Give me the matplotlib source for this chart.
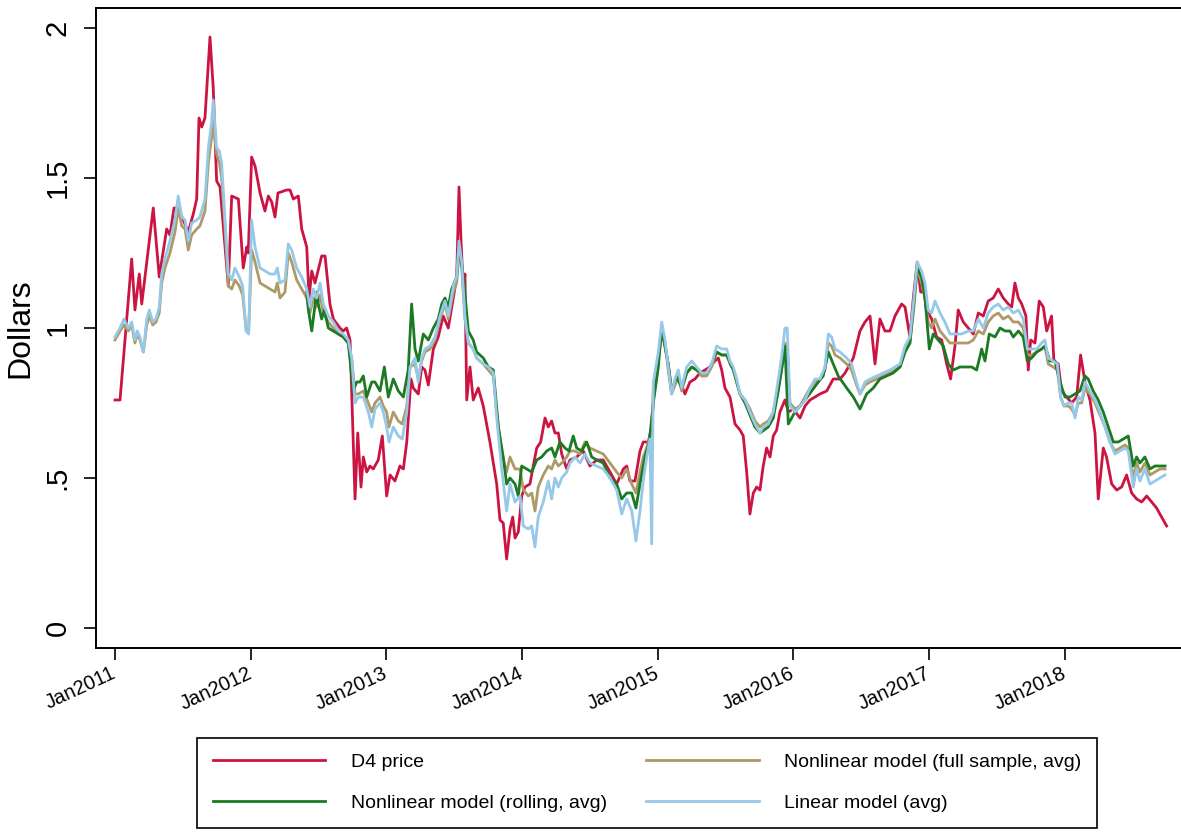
import numpy as np
import matplotlib
matplotlib.use("Agg")
import matplotlib.pyplot as plt

plt.rcParams["font.family"] = ["Liberation Sans", "DejaVu Sans"]

# time axis: years since Jan 2011
d4_t = [0.000, 0.037, 0.123, 0.147, 0.179, 0.197, 0.282, 0.326, 0.381, 0.405,
        0.435, 0.464, 0.503, 0.540, 0.577, 0.602, 0.619, 0.639, 0.663, 0.700,
        0.724, 0.749, 0.774, 0.835, 0.860, 0.909, 0.945, 0.971, 0.982, 1.007,
        1.032, 1.069, 1.105, 1.130, 1.155, 1.179, 1.201, 1.265, 1.290, 1.314,
        1.351, 1.376, 1.413, 1.430, 1.450, 1.474, 1.523, 1.548, 1.584, 1.609,
        1.658, 1.682, 1.707, 1.732, 1.769, 1.789, 1.813, 1.830, 1.855, 1.879,
        1.903, 1.940, 1.970, 2.002, 2.027, 2.063, 2.100, 2.125, 2.150, 2.181,
        2.198, 2.235, 2.260, 2.284, 2.309, 2.346, 2.382, 2.419, 2.456, 2.493,
        2.518, 2.535, 2.550, 2.567, 2.579, 2.592, 2.616, 2.640, 2.677, 2.714,
        2.763, 2.813, 2.837, 2.861, 2.886, 2.911, 2.931, 2.948, 2.972, 2.997,
        3.021, 3.058, 3.082, 3.108, 3.137, 3.169, 3.193, 3.218, 3.242, 3.267,
        3.292, 3.329, 3.353, 3.402, 3.451, 3.500, 3.550, 3.598, 3.648, 3.697,
        3.746, 3.771, 3.795, 3.832, 3.869, 3.893, 3.930, 3.955, 3.979, 4.001,
        4.029, 4.053, 4.077, 4.102, 4.139, 4.176, 4.200, 4.237, 4.274, 4.311,
        4.348, 4.385, 4.421, 4.446, 4.471, 4.495, 4.532, 4.569, 4.606, 4.630,
        4.655, 4.679, 4.704, 4.729, 4.753, 4.777, 4.802, 4.827, 4.851, 4.876,
        4.900, 4.937, 4.962, 4.998, 5.048, 5.085, 5.122, 5.158, 5.195, 5.245,
        5.293, 5.343, 5.380, 5.441, 5.490, 5.527, 5.564, 5.601, 5.637, 5.674,
        5.711, 5.748, 5.797, 5.822, 5.858, 5.883, 5.912, 5.937, 5.962, 5.982,
        6.018, 6.055, 6.092, 6.129, 6.158, 6.190, 6.214, 6.251, 6.288, 6.325,
        6.362, 6.399, 6.435, 6.472, 6.509, 6.546, 6.583, 6.608, 6.632, 6.657,
        6.682, 6.713, 6.730, 6.748, 6.780, 6.811, 6.841, 6.866, 6.902, 6.919,
        6.951, 6.976, 7.013, 7.050, 7.087, 7.116, 7.148, 7.185, 7.222, 7.246,
        7.283, 7.307, 7.345, 7.382, 7.418, 7.455, 7.492, 7.529, 7.566, 7.603,
        7.639, 7.676, 7.700, 7.750]
d4_price = [0.76, 0.76, 1.23, 1.06, 1.18, 1.08, 1.40, 1.17, 1.33, 1.31,
            1.40, 1.40, 1.36, 1.32, 1.38, 1.43, 1.70, 1.67, 1.70, 1.97,
            1.80, 1.49, 1.47, 1.14, 1.44, 1.43, 1.20, 1.27, 1.25, 1.57,
            1.54, 1.45, 1.39, 1.44, 1.42, 1.37, 1.45, 1.46, 1.46, 1.43,
            1.44, 1.33, 1.27, 1.10, 1.19, 1.15, 1.24, 1.24, 1.08, 1.03,
            1.00, 0.99, 1.00, 0.96, 0.43, 0.65, 0.47, 0.57, 0.52, 0.54,
            0.53, 0.56, 0.64, 0.44, 0.51, 0.49, 0.54, 0.53, 0.62, 0.83,
            0.80, 0.78, 0.87, 0.86, 0.81, 0.93, 0.97, 1.04, 1.00, 1.10,
            1.17, 1.47, 1.29, 1.13, 1.18, 0.76, 0.87, 0.76, 0.80, 0.74,
            0.62, 0.48, 0.36, 0.35, 0.23, 0.33, 0.37, 0.30, 0.32, 0.44,
            0.47, 0.48, 0.54, 0.60, 0.62, 0.70, 0.67, 0.69, 0.65, 0.65,
            0.58, 0.53, 0.56, 0.57, 0.59, 0.54, 0.56, 0.56, 0.52, 0.48,
            0.53, 0.54, 0.49, 0.49, 0.59, 0.62, 0.62, 0.67, 0.83, 0.89,
            0.99, 0.94, 0.88, 0.79, 0.83, 0.81, 0.78, 0.82, 0.83, 0.85,
            0.86, 0.87, 0.89, 0.90, 0.86, 0.80, 0.77, 0.68, 0.66, 0.64,
            0.52, 0.38, 0.45, 0.47, 0.46, 0.54, 0.60, 0.57, 0.64, 0.66,
            0.72, 0.76, 0.72, 0.73, 0.70, 0.74, 0.76, 0.77, 0.78, 0.79,
            0.83, 0.83, 0.85, 0.90, 0.99, 1.02, 1.04, 0.88, 1.03, 0.99,
            0.99, 1.04, 1.08, 1.07, 0.97, 1.10, 1.22, 1.12, 1.12, 1.06,
            1.03, 0.97, 0.96, 0.88, 0.83, 0.94, 1.06, 1.02, 1.00, 0.98,
            1.05, 1.04, 1.09, 1.10, 1.13, 1.10, 1.08, 1.07, 1.15, 1.10,
            1.08, 1.04, 0.86, 0.96, 0.95, 1.09, 1.07, 0.99, 1.04, 0.89,
            0.88, 0.79, 0.77, 0.75, 0.77, 0.91, 0.82, 0.76, 0.65, 0.43,
            0.60, 0.57, 0.48, 0.46, 0.47, 0.51, 0.45, 0.43, 0.42, 0.44,
            0.42, 0.40, 0.38, 0.34]

# linear and full-sample nonlinear model share one date list
model_t = [0.000, 0.037, 0.066, 0.098, 0.123, 0.147, 0.164, 0.184, 0.209, 0.234,
           0.253, 0.278, 0.302, 0.326, 0.344, 0.368, 0.405, 0.442, 0.466, 0.492,
           0.516, 0.540, 0.565, 0.602, 0.626, 0.663, 0.688, 0.713, 0.724, 0.749,
           0.769, 0.786, 0.811, 0.835, 0.860, 0.884, 0.916, 0.941, 0.965, 0.985,
           1.007, 1.032, 1.069, 1.105, 1.142, 1.179, 1.196, 1.216, 1.253, 1.277,
           1.302, 1.339, 1.376, 1.413, 1.437, 1.461, 1.486, 1.511, 1.535, 1.572,
           1.609, 1.646, 1.682, 1.719, 1.744, 1.769, 1.793, 1.830, 1.867, 1.892,
           1.916, 1.953, 1.977, 2.002, 2.019, 2.051, 2.088, 2.117, 2.150, 2.174,
           2.211, 2.235, 2.260, 2.284, 2.321, 2.358, 2.395, 2.432, 2.456, 2.493,
           2.518, 2.535, 2.555, 2.579, 2.604, 2.640, 2.665, 2.714, 2.751, 2.788,
           2.813, 2.850, 2.886, 2.911, 2.948, 2.985, 3.009, 3.046, 3.071, 3.095,
           3.119, 3.156, 3.193, 3.218, 3.242, 3.267, 3.292, 3.329, 3.353, 3.390,
           3.427, 3.463, 3.500, 3.550, 3.598, 3.648, 3.697, 3.734, 3.771, 3.808,
           3.839, 3.869, 3.893, 3.918, 3.942, 3.955, 3.967, 4.004, 4.029, 4.053,
           4.077, 4.102, 4.127, 4.151, 4.176, 4.213, 4.250, 4.287, 4.323, 4.360,
           4.397, 4.434, 4.471, 4.508, 4.532, 4.557, 4.581, 4.606, 4.643, 4.679,
           4.716, 4.753, 4.777, 4.814, 4.851, 4.888, 4.912, 4.937, 4.954, 4.974,
           5.011, 5.048, 5.085, 5.122, 5.158, 5.195, 5.232, 5.257, 5.281, 5.306,
           5.343, 5.392, 5.428, 5.465, 5.490, 5.527, 5.564, 5.613, 5.662, 5.711,
           5.748, 5.785, 5.822, 5.858, 5.888, 5.912, 5.944, 5.969, 5.993, 6.018,
           6.043, 6.080, 6.116, 6.153, 6.190, 6.239, 6.288, 6.325, 6.362, 6.399,
           6.435, 6.472, 6.509, 6.546, 6.583, 6.620, 6.657, 6.693, 6.723, 6.755,
           6.792, 6.829, 6.853, 6.877, 6.914, 6.944, 6.969, 6.993, 7.025, 7.050,
           7.075, 7.099, 7.124, 7.148, 7.185, 7.222, 7.259, 7.296, 7.332, 7.369,
           7.406, 7.443, 7.467, 7.504, 7.529, 7.553, 7.590, 7.627, 7.664, 7.700,
           7.738]
linear_avg = [0.97, 1.00, 1.03, 1.00, 1.02, 0.96, 0.99, 0.97, 0.92, 1.03,
              1.06, 1.02, 1.03, 1.07, 1.18, 1.23, 1.29, 1.36, 1.44, 1.37,
              1.36, 1.29, 1.35, 1.36, 1.37, 1.43, 1.60, 1.69, 1.76, 1.60,
              1.59, 1.55, 1.36, 1.18, 1.16, 1.20, 1.17, 1.14, 0.99, 0.98,
              1.36, 1.27, 1.20, 1.19, 1.18, 1.18, 1.20, 1.15, 1.16, 1.28,
              1.26, 1.20, 1.17, 1.13, 1.07, 1.13, 1.10, 1.15, 1.08, 1.04,
              1.02, 0.99, 0.98, 0.96, 0.90, 0.75, 0.77, 0.77, 0.72, 0.67,
              0.73, 0.75, 0.72, 0.67, 0.62, 0.67, 0.64, 0.63, 0.72, 0.87,
              0.90, 0.82, 0.90, 0.93, 0.94, 0.97, 1.04, 1.09, 1.04, 1.14,
              1.17, 1.29, 1.22, 1.04, 0.95, 0.93, 0.90, 0.88, 0.87, 0.85,
              0.70, 0.53, 0.39, 0.48, 0.42, 0.44, 0.34, 0.33, 0.34, 0.27,
              0.37, 0.42, 0.49, 0.43, 0.50, 0.47, 0.50, 0.52, 0.55, 0.57,
              0.55, 0.58, 0.55, 0.54, 0.53, 0.50, 0.46, 0.38, 0.43, 0.39,
              0.29, 0.39, 0.49, 0.57, 0.63, 0.28, 0.82, 0.92, 1.02, 0.96,
              0.87, 0.78, 0.83, 0.86, 0.80, 0.87, 0.89, 0.87, 0.85, 0.85,
              0.88, 0.94, 0.93, 0.93, 0.89, 0.87, 0.83, 0.78, 0.76, 0.72,
              0.68, 0.65, 0.67, 0.68, 0.72, 0.83, 0.90, 1.00, 1.00, 0.74,
              0.72, 0.74, 0.76, 0.80, 0.83, 0.83, 0.87, 0.98, 0.97, 0.93,
              0.92, 0.90, 0.88, 0.82, 0.78, 0.82, 0.83, 0.84, 0.85, 0.86,
              0.87, 0.88, 0.94, 0.97, 1.10, 1.22, 1.19, 1.15, 1.06, 1.05,
              1.09, 1.05, 1.02, 0.98, 0.98, 0.98, 0.99, 0.99, 1.03, 1.00,
              1.05, 1.07, 1.08, 1.06, 1.07, 1.05, 1.06, 1.03, 0.93, 0.93,
              0.93, 0.95, 0.96, 0.90, 0.89, 0.88, 0.77, 0.74, 0.75, 0.75,
              0.70, 0.77, 0.76, 0.82, 0.79, 0.76, 0.72, 0.67, 0.62, 0.58,
              0.59, 0.60, 0.59, 0.47, 0.53, 0.49, 0.53, 0.48, 0.49, 0.50,
              0.51]
full_avg = [0.96, 0.99, 1.01, 0.99, 1.01, 0.95, 0.98, 0.96, 0.92, 1.01,
            1.04, 1.01, 1.02, 1.05, 1.15, 1.20, 1.25, 1.32, 1.40, 1.34,
            1.33, 1.26, 1.31, 1.33, 1.34, 1.39, 1.55, 1.64, 1.68, 1.58,
            1.55, 1.50, 1.33, 1.14, 1.13, 1.16, 1.14, 1.11, 1.00, 0.99,
            1.26, 1.22, 1.15, 1.14, 1.13, 1.12, 1.15, 1.10, 1.12, 1.25,
            1.22, 1.16, 1.13, 1.10, 1.05, 1.10, 1.07, 1.11, 1.05, 1.02,
            1.00, 0.98, 0.97, 0.95, 0.90, 0.78, 0.78, 0.79, 0.75, 0.72,
            0.75, 0.77, 0.74, 0.72, 0.67, 0.72, 0.69, 0.68, 0.74, 0.87,
            0.88, 0.83, 0.89, 0.92, 0.93, 0.96, 1.03, 1.08, 1.03, 1.12,
            1.15, 1.25, 1.20, 1.03, 0.95, 0.93, 0.90, 0.88, 0.86, 0.84,
            0.72, 0.58, 0.52, 0.57, 0.53, 0.53, 0.46, 0.44, 0.45, 0.39,
            0.47, 0.51, 0.54, 0.53, 0.56, 0.54, 0.55, 0.57, 0.59, 0.59,
            0.58, 0.62, 0.60, 0.59, 0.58, 0.55, 0.52, 0.50, 0.53, 0.48,
            0.45, 0.52, 0.57, 0.60, 0.64, 0.66, 0.80, 0.90, 1.00, 0.95,
            0.86, 0.78, 0.81, 0.84, 0.79, 0.85, 0.87, 0.86, 0.84, 0.84,
            0.87, 0.92, 0.91, 0.91, 0.88, 0.86, 0.82, 0.78, 0.76, 0.73,
            0.69, 0.67, 0.68, 0.69, 0.72, 0.80, 0.86, 0.95, 0.94, 0.75,
            0.73, 0.74, 0.77, 0.80, 0.82, 0.83, 0.86, 0.95, 0.94, 0.91,
            0.90, 0.88, 0.86, 0.81, 0.78, 0.81, 0.82, 0.83, 0.84, 0.85,
            0.86, 0.87, 0.92, 0.95, 1.07, 1.20, 1.15, 1.10, 1.02, 1.00,
            1.03, 0.99, 0.97, 0.95, 0.95, 0.95, 0.95, 0.96, 0.99, 0.98,
            1.02, 1.04, 1.05, 1.03, 1.04, 1.02, 1.02, 1.00, 0.91, 0.91,
            0.92, 0.93, 0.94, 0.88, 0.87, 0.86, 0.77, 0.74, 0.74, 0.73,
            0.71, 0.75, 0.75, 0.80, 0.78, 0.75, 0.71, 0.67, 0.62, 0.59,
            0.60, 0.61, 0.60, 0.50, 0.55, 0.52, 0.55, 0.51, 0.52, 0.53,
            0.53]

# rolling-window nonlinear model starts later
rolling_t = [1.413, 1.425, 1.450, 1.486, 1.498, 1.523, 1.543, 1.572, 1.609, 1.646,
             1.682, 1.719, 1.756, 1.781, 1.805, 1.830, 1.855, 1.892, 1.916, 1.953,
             1.985, 2.014, 2.051, 2.088, 2.125, 2.161, 2.186, 2.211, 2.235, 2.272,
             2.309, 2.346, 2.382, 2.408, 2.432, 2.456, 2.481, 2.518, 2.535, 2.567,
             2.604, 2.640, 2.665, 2.714, 2.751, 2.788, 2.825, 2.861, 2.886, 2.911,
             2.948, 2.972, 2.997, 3.034, 3.071, 3.108, 3.144, 3.182, 3.218, 3.242,
             3.279, 3.316, 3.346, 3.377, 3.402, 3.439, 3.476, 3.513, 3.550, 3.598,
             3.648, 3.697, 3.734, 3.771, 3.808, 3.839, 3.869, 3.906, 3.937, 3.967,
             4.004, 4.029, 4.053, 4.077, 4.102, 4.139, 4.176, 4.213, 4.250, 4.287,
             4.323, 4.360, 4.397, 4.434, 4.471, 4.508, 4.557, 4.606, 4.643, 4.679,
             4.716, 4.753, 4.814, 4.851, 4.888, 4.912, 4.937, 4.962, 5.011, 5.085,
             5.134, 5.183, 5.219, 5.257, 5.293, 5.330, 5.392, 5.441, 5.490, 5.539,
             5.588, 5.637, 5.686, 5.735, 5.785, 5.822, 5.858, 5.888, 5.912, 5.944,
             5.969, 6.001, 6.030, 6.067, 6.104, 6.141, 6.178, 6.227, 6.276, 6.313,
             6.350, 6.387, 6.411, 6.443, 6.485, 6.522, 6.559, 6.595, 6.620, 6.657,
             6.693, 6.723, 6.755, 6.792, 6.829, 6.853, 6.890, 6.927, 6.964, 7.001,
             7.038, 7.075, 7.111, 7.148, 7.172, 7.209, 7.246, 7.283, 7.320, 7.357,
             7.394, 7.430, 7.467, 7.504, 7.529, 7.553, 7.590, 7.627, 7.664, 7.700,
             7.738]
rolling_avg = [1.12, 1.06, 0.99, 1.12, 1.08, 1.03, 1.06, 1.00, 0.99, 0.98,
               0.97, 0.95, 0.79, 0.82, 0.82, 0.84, 0.77, 0.82, 0.82, 0.79,
               0.87, 0.77, 0.83, 0.79, 0.77, 0.86, 1.08, 0.93, 0.89, 0.98,
               0.96, 1.00, 1.03, 1.08, 1.10, 1.07, 1.13, 1.17, 1.28, 1.17,
               0.99, 0.96, 0.92, 0.90, 0.87, 0.86, 0.67, 0.57, 0.48, 0.50,
               0.48, 0.44, 0.54, 0.53, 0.52, 0.56, 0.57, 0.59, 0.60, 0.57,
               0.62, 0.60, 0.59, 0.64, 0.60, 0.59, 0.62, 0.57, 0.56, 0.55,
               0.50, 0.48, 0.43, 0.45, 0.45, 0.40, 0.48, 0.57, 0.62, 0.75,
               0.87, 1.00, 0.94, 0.88, 0.79, 0.84, 0.80, 0.85, 0.87, 0.86,
               0.85, 0.85, 0.88, 0.92, 0.91, 0.91, 0.86, 0.78, 0.75, 0.71,
               0.67, 0.65, 0.67, 0.70, 0.79, 0.86, 0.94, 0.68, 0.72, 0.76,
               0.79, 0.82, 0.84, 0.92, 0.88, 0.84, 0.80, 0.77, 0.73, 0.78,
               0.80, 0.83, 0.84, 0.85, 0.87, 0.92, 0.95, 1.09, 1.20, 1.17,
               1.10, 0.93, 0.98, 0.96, 0.94, 0.88, 0.86, 0.87, 0.87, 0.87,
               0.86, 0.93, 0.89, 0.98, 0.97, 1.00, 0.99, 0.99, 0.97, 0.99,
               0.97, 0.89, 0.90, 0.92, 0.93, 0.94, 0.89, 0.89, 0.82, 0.77,
               0.77, 0.78, 0.79, 0.84, 0.83, 0.79, 0.76, 0.72, 0.67, 0.62,
               0.62, 0.63, 0.64, 0.54, 0.57, 0.55, 0.57, 0.53, 0.54, 0.54,
               0.54]

year_labels = ["Jan2011", "Jan2012", "Jan2013", "Jan2014",
               "Jan2015", "Jan2016", "Jan2017", "Jan2018"]
y_ticks = [0, 0.5, 1, 1.5, 2]
y_labels = ["0", ".5", "1", "1.5", "2"]

c_d4 = "#cc1442"
c_full = "#ad9a68"
c_roll = "#1c7a22"
c_lin = "#96c8e8"

W, H = 1181, 835
fig = plt.figure(figsize=(W / 100, H / 100), dpi=100)
ax = fig.add_axes([96 / W, 1 - 648 / H, (1187 - 96) / W, (648 - 8) / H])

lw = 2.0
l1, = ax.plot(d4_t, d4_price, color=c_d4, lw=lw)
l2, = ax.plot(model_t, full_avg, color=c_full, lw=lw)
l3, = ax.plot(rolling_t, rolling_avg, color=c_roll, lw=lw)
l4, = ax.plot(model_t, linear_avg, color=c_lin, lw=lw)

ax.set_xlim(-0.14, 7.9)
ax.set_ylim(-0.0667, 2.0667)

ax.set_yticks(y_ticks)
ax.set_yticklabels(y_labels, rotation=90, va="center", fontsize=21)
ax.set_xticks(range(len(year_labels)))
ax.set_xticklabels(year_labels, rotation=25, ha="right", va="center",
                   rotation_mode="anchor", fontsize=14.5)
ax.tick_params(axis="y", length=8.5, width=1.2, pad=9, colors="black")
ax.tick_params(axis="x", length=8.5, width=1.2, pad=9, colors="black")
for s in ax.spines.values():
    s.set_linewidth(1.4)

ax.set_ylabel("Dollars", fontsize=23)
ax.yaxis.set_label_coords(-0.056, 0.5)

leg = fig.legend([l1, l3, l2, l4],
                 ["D4 price", "Nonlinear model (rolling, avg)",
                  "Nonlinear model (full sample, avg)", "Linear model (avg)"],
                 ncol=2, loc="upper left",
                 bbox_to_anchor=(197 / W, 0, 900 / W, 1 - 738 / H),
                 mode="expand", borderaxespad=0, fontsize=14, handlelength=5.8,
                 handletextpad=1.3, labelspacing=1.2, borderpad=0.8,
                 fancybox=False, edgecolor="black", framealpha=1)
leg.get_frame().set_linewidth(1.2)

fig.savefig("out.png", dpi=100, facecolor="white")
